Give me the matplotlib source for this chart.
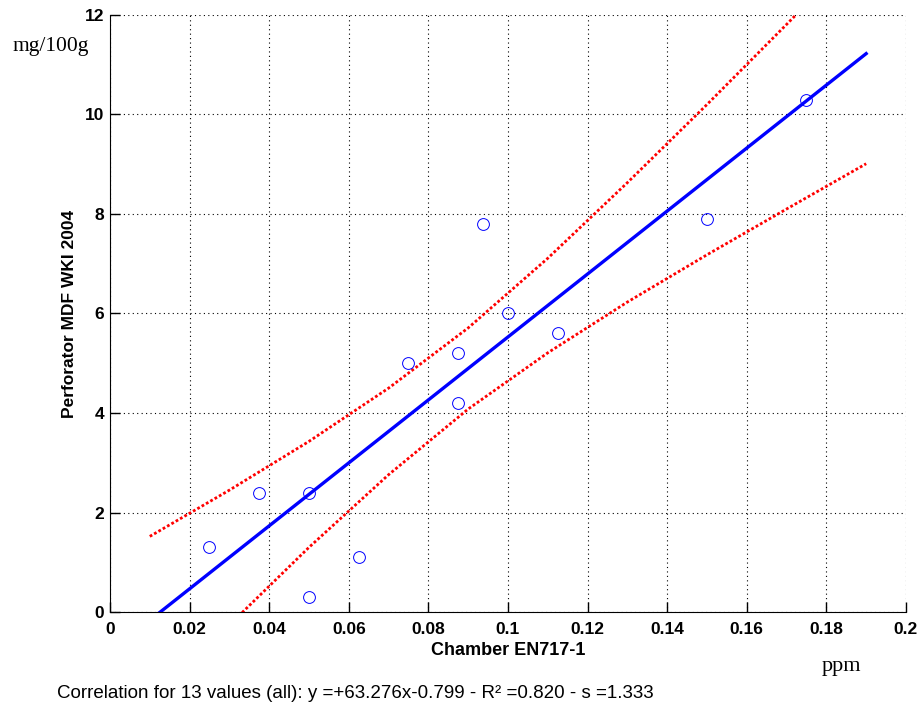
import matplotlib.pyplot as plt
import numpy as np

# measured points (chamber ppm vs perforator mg/100g)
chamber = [0.025, 0.0375, 0.05, 0.05, 0.0625, 0.075, 0.0875, 0.0875,
           0.09375, 0.1, 0.1125, 0.15, 0.175]
perforator = [1.3, 2.4, 2.4, 0.3, 1.1, 5.0, 5.2, 4.2, 7.8, 6.0, 5.6, 7.9, 10.3]

# regression line end points
fit_x = [0.01, 0.19]
fit_y = [-0.166, 11.223]

# confidence band
band_x = [0.01, 0.03, 0.05, 0.07, 0.09, 0.11, 0.13, 0.15, 0.17, 0.19]
band_upper = [1.52, 2.45, 3.43, 4.50, 5.71, 7.11, 8.63, 10.20, 11.81, 13.44]
band_lower = [-1.85, -0.26, 1.30, 2.76, 4.08, 5.21, 6.23, 7.18, 8.10, 9.01]

x_ticks = [0, 0.02, 0.04, 0.06, 0.08, 0.1, 0.12, 0.14, 0.16, 0.18, 0.2]
x_tick_labels = ["0", "0.02", "0.04", "0.06", "0.08", "0.1", "0.12",
                 "0.14", "0.16", "0.18", "0.2"]
y_ticks = [0, 2, 4, 6, 8, 10, 12]

plt.rcParams['font.family'] = ['Liberation Sans', 'DejaVu Sans']

fig = plt.figure(figsize=(9.22, 7.06), dpi=100)
ax = fig.add_axes([0.1193, 0.1331, 0.8633, 0.8457])

ax.plot(band_x, band_upper, color="red", linestyle=(0, (1, 0.8)), linewidth=2)
ax.plot(band_x, band_lower, color="red", linestyle=(0, (1, 0.8)), linewidth=2)
ax.plot(fit_x, fit_y, color="blue", linewidth=2.4)
ax.plot(chamber, perforator, linestyle="none", marker="o", markersize=8.5,
        markerfacecolor="none", markeredgecolor="blue", markeredgewidth=0.7)

ax.set_xlim(0, 0.2)
ax.set_ylim(0, 12)
ax.set_xticks(x_ticks, labels=x_tick_labels)
ax.set_yticks(y_ticks)
ax.tick_params(direction="in", length=7, width=1, labelsize=12.5)
ax.tick_params(axis="x", pad=7)
ax.tick_params(axis="y", pad=4)
for lbl in ax.get_xticklabels() + ax.get_yticklabels():
    lbl.set_fontweight("bold")

ax.grid(True, color="black", linestyle=(0, (1, 3)), linewidth=0.8)
ax.spines["top"].set_visible(False)
ax.spines["right"].set_visible(False)

ax.set_xlabel("Chamber EN717-1", fontsize=13, fontweight="bold")
ax.set_ylabel("Perforator MDF WKI 2004", fontsize=12.5, fontweight="bold")
ax.xaxis.set_label_coords(0.5, -0.050)
ax.yaxis.set_label_coords(-0.041, 0.5)

fig.text(0.014, 0.928, "mg/100g", fontsize=15.5, family="Liberation Serif")
fig.text(0.891, 0.050, "ppm", fontsize=16, family="Liberation Serif")
fig.text(0.062, 0.012,
         "Correlation for 13 values (all): y =+63.276x-0.799 - R\u00b2 =0.820 - s =1.333",
         fontsize=13.5)

fig.savefig("out.png", dpi=100)
